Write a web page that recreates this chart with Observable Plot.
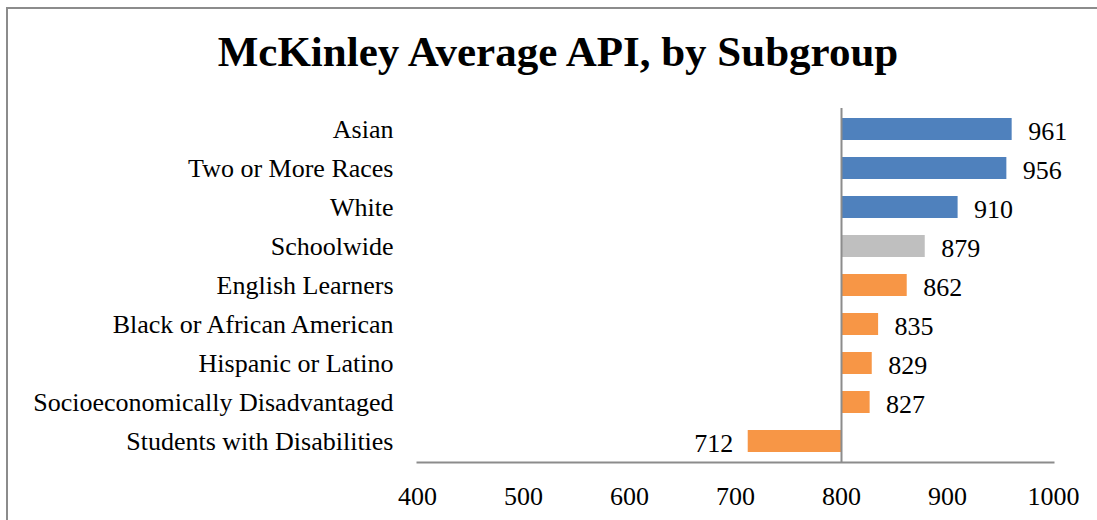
<!DOCTYPE html>
<html>
<head>
<meta charset="utf-8">
<script src="https://cdn.jsdelivr.net/npm/d3@7"></script>
<script src="https://cdn.jsdelivr.net/npm/@observablehq/plot@0.6"></script>
<style>
  html, body { margin: 0; padding: 0; background: #fff; }
  #wrap { position: relative; width: 1097px; height: 520px; overflow: hidden; font-family: "Liberation Serif", "Times New Roman", serif; }
  #border { position: absolute; left: 6px; top: 7px; width: 1200px; height: 600px; border: 2px solid #8c8c8c; box-sizing: border-box; }
  #title { position: absolute; left: 0; width: 1116px; top: 28px; text-align: center; font-weight: bold; font-size: 43px; line-height: 1.1; color: #000; }
  #chart { position: absolute; left: 0; top: 100px; }
  #chart svg text { font-size: 26px; }
</style>
</head>
<body>
<div id="wrap">
  <div id="border"></div>
  <div id="title">McKinley Average API, by Subgroup</div>
  <div id="chart"></div>
</div>
<script>
const categories = ["Asian", "Two or More Races", "White", "Schoolwide", "English Learners", "Black or African American", "Hispanic or Latino", "Socioeconomically Disadvantaged", "Students with Disabilities"];
const values = [961, 956, 910, 879, 862, 835, 829, 827, 712];
const groups = ["race", "race", "race", "school", "other", "other", "other", "other", "other"];
const xTicks = [400, 500, 600, 700, 800, 900, 1000];
const baseline = 800;

const data = categories.map((c, i) => ({category: c, value: values[i], group: groups[i]}));

const chart = Plot.plot({
  width: 1097,
  height: 420,
  marginLeft: 417,
  marginRight: 44,
  marginTop: 8,
  marginBottom: 58,
  style: {fontFamily: '"Liberation Serif", "Times New Roman", serif', fontSize: "26px", color: "#000", background: "transparent"},
  x: {domain: [400, 1000], ticks: xTicks, tickFormat: d => String(d), tickSize: 0, tickPadding: 24, label: null},
  y: {domain: categories, paddingInner: 0.44, paddingOuter: 0.22, tickSize: 0, tickPadding: 24, label: null},
  color: {domain: ["race", "school", "other"], range: ["#4F81BD", "#BFBFBF", "#F79646"]},
  marks: [
    Plot.barX(data, {x1: baseline, x2: "value", y: "category", fill: "group"}),
    Plot.frame({anchor: "bottom", stroke: "#8c8c8c", strokeWidth: 2}),
    Plot.ruleX([baseline], {stroke: "#8c8c8c", strokeWidth: 2}),
    Plot.text(data.filter(d => d.value >= baseline), {x: "value", y: "category", text: d => String(d.value), textAnchor: "start", dx: 16, dy: 2, fontSize: 26, fill: "#000"}),
    Plot.text(data.filter(d => d.value < baseline), {x: "value", y: "category", text: d => String(d.value), textAnchor: "end", dx: -15, dy: 2, fontSize: 26, fill: "#000"})
  ]
});
document.getElementById("chart").appendChild(chart);
</script>
</body>
</html>
